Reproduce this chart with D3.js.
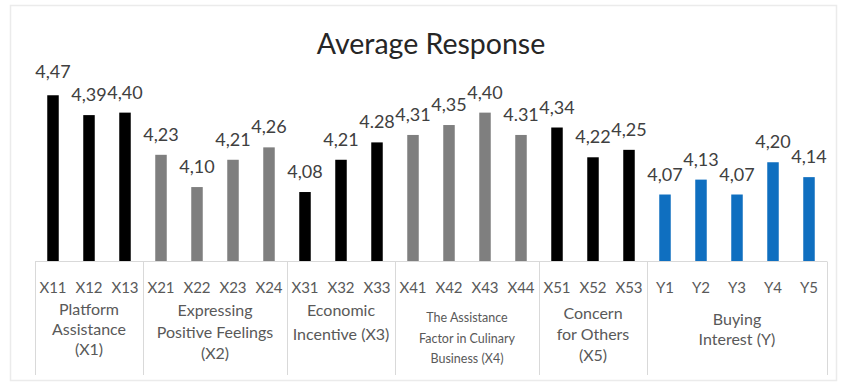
<!DOCTYPE html>
<html>
<head>
<meta charset="utf-8">
<script src="https://cdn.jsdelivr.net/npm/d3@7/dist/d3.min.js"></script>
<style>
  html, body { margin: 0; padding: 0; background: #ffffff; }
  svg { display: block; font-family: Lato, "Open Sans", sans-serif; }
</style>
</head>
<body>
<svg id="chart" width="841" height="385"></svg>
<script>
// Indicator codes along the axis, grouped by variable
const categories = ["X11","X12","X13","X21","X22","X23","X24","X31","X32","X33",
                    "X41","X42","X43","X44","X51","X52","X53","Y1","Y2","Y3","Y4","Y5"];
// Average response per indicator
const values = [4.47,4.39,4.40,4.23,4.10,4.21,4.26,4.08,4.21,4.28,
                4.31,4.35,4.40,4.31,4.34,4.22,4.25,4.07,4.13,4.07,4.20,4.14];
// Printed value labels (decimal separator as written)
const valueLabels = ["4,47","4,39","4,40","4,23","4,10","4,21","4,26","4,08","4,21","4.28",
                     "4,31","4,35","4,40","4.31","4,34","4,22","4,25","4,07","4,13","4,07","4,20","4,14"];
// Variable groups: id, number of indicators, wrapped label lines
const groupIds = ["X1","X2","X3","X4","X5","Y"];
const groupSizes = [3,4,3,4,3,5];
const groupLines = [
  ["Platform","Assistance","(X1)"],
  ["Expressing","Positive Feelings","(X2)"],
  ["Economic","Incentive (X3)"],
  ["The Assistance","Factor in Culinary","Business (X4)"],
  ["Concern","for Others","(X5)"],
  ["Buying","Interest (Y)"]
];
const yTicks = [3.8, 4.6];

// Appearance per group
const groupColor = {X1:"#000000", X2:"#7f7f7f", X3:"#000000", X4:"#7f7f7f", X5:"#000000", Y:"#0f6fc0"};
const groupLabelStyle = {
  X1:{first:315, step:20, size:16},
  X2:{first:316, step:21.5, size:16},
  X3:{first:316, step:24, size:16},
  X4:{first:322, step:20.5, size:12.5},
  X5:{first:319, step:21, size:16},
  Y: {first:325, step:20, size:16}
};

const svg = d3.select("#chart");
const left = 35, right = 827, base = 261.5;

// Chart frame
svg.append("rect").attr("x", 10.5).attr("y", 5.5).attr("width", 826).attr("height", 375)
  .attr("fill", "#fff").attr("stroke", "#ebebeb").attr("stroke-width", 1.5);

// Indicator -> group mapping
const groupOf = [];
groupIds.forEach((g, i) => { for (let k = 0; k < groupSizes[i]; k++) groupOf.push(g); });

const x = d3.scaleBand().domain(categories).range([left, right]).paddingInner(0).paddingOuter(0);
const y = d3.scaleLinear().domain(d3.extent(yTicks)).range([base, 63]);
const barW = 11.5;

// Title
svg.append("text").attr("x", 431).attr("y", 54).attr("text-anchor", "middle")
  .attr("font-size", 28.5).attr("fill", "#262626").text("Average Response");

// Bars
svg.append("g").selectAll("rect").data(categories).join("rect")
  .attr("x", (d) => x(d) + x.bandwidth() / 2 - barW / 2)
  .attr("y", (d, i) => y(values[i]))
  .attr("width", barW)
  .attr("height", (d, i) => base - y(values[i]))
  .attr("fill", (d, i) => groupColor[groupOf[i]]);

// Value labels above bars
svg.append("g").selectAll("text").data(categories).join("text")
  .attr("x", (d) => x(d) + x.bandwidth() / 2)
  .attr("y", (d, i) => y(values[i]) - (i === 0 ? 17 : 14))
  .attr("text-anchor", "middle")
  .attr("font-size", 18)
  .attr("fill", "#404040")
  .text((d, i) => valueLabels[i]);

// Category axis: base line and group separators
const axis = svg.append("g").attr("stroke", "#d9d9d9").attr("stroke-width", 1);
axis.append("line").attr("x1", left).attr("x2", right).attr("y1", base).attr("y2", base);
const bounds = [0];
groupSizes.forEach((n, i) => bounds.push(bounds[i] + n));
bounds.forEach((b) => {
  const bx = b < categories.length ? x(categories[b]) : right;
  axis.append("line").attr("x1", Math.round(bx) + 0.5).attr("x2", Math.round(bx) + 0.5)
    .attr("y1", base).attr("y2", 375);
});

// Indicator labels
svg.append("g").selectAll("text").data(categories).join("text")
  .attr("x", (d) => x(d) + x.bandwidth() / 2)
  .attr("y", 293)
  .attr("text-anchor", "middle")
  .attr("font-size", 15)
  .attr("fill", "#595959")
  .text((d) => d);

// Group labels
groupIds.forEach((g, i) => {
  const start = x(categories[bounds[i]]);
  const end = bounds[i + 1] < categories.length ? x(categories[bounds[i + 1]]) : right;
  const st = groupLabelStyle[g];
  const t = svg.append("text").attr("text-anchor", "middle")
    .attr("font-size", st.size).attr("fill", "#595959");
  groupLines[i].forEach((line, j) => {
    t.append("tspan").attr("x", (start + end) / 2).attr("y", st.first + j * st.step).text(line);
  });
});
</script>
</body>
</html>
